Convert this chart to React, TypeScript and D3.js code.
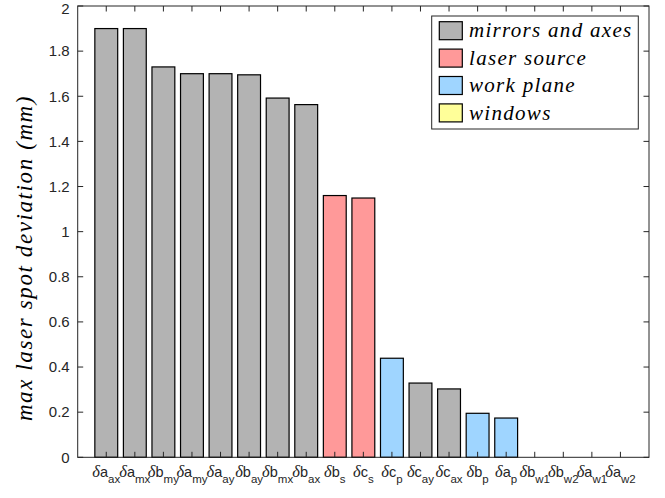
import React from "react";
import * as d3 from "d3";

const categories = [
  ["a", "ax"], ["a", "mx"], ["b", "my"], ["a", "my"], ["a", "ay"], ["b", "ay"], ["b", "mx"], ["b", "ax"],
  ["b", "s"], ["c", "s"], ["c", "p"], ["c", "ay"], ["c", "ax"], ["b", "p"], ["a", "p"],
  ["b", "w1"], ["b", "w2"], ["a", "w1"], ["a", "w2"],
];
const values = [1.9, 1.9, 1.73, 1.70, 1.70, 1.695, 1.592, 1.563, 1.16, 1.149, 0.439, 0.329, 0.303, 0.195, 0.174, 0, 0, 0, 0];
const groups = [0, 0, 0, 0, 0, 0, 0, 0, 1, 1, 2, 0, 0, 2, 2, 3, 3, 3, 3];
const groupNames = ["mirrors and axes", "laser source", "work plane", "windows"];
const groupColors = ["#b3b3b3", "#ff9999", "#9fd5ff", "#ffff99"];
const yTicks = [0, 0.2, 0.4, 0.6, 0.8, 1, 1.2, 1.4, 1.6, 1.8, 2];
const yLabel = "max laser spot deviation (mm)";

const W = 665, H = 498;
const L = 77.7, R = 649, T = 6, B = 457.3;

export default function App() {
  const x = d3.scaleLinear().domain([0, categories.length + 1]).range([L, R]);
  const y = d3.scaleLinear().domain([0, 2]).range([B, T]);
  const bw = (x(1) - x(0)) * 0.8;
  const tickLen = 5.5;
  const axisCol = "#262626";
  const serif = "'Liberation Serif', 'Times New Roman', serif";
  const sans = "'Liberation Sans', Arial, sans-serif";
  return (
    <svg width={W} height={H} style={{ position: "absolute", left: 0, top: 0, background: "#fff" }}>
      <rect x={0} y={0} width={W} height={H} fill="#fff" />
      {values.map((v, i) => (
        <rect key={i} x={x(i + 1) - bw / 2} y={y(v)} width={bw} height={y(0) - y(v)}
          fill={groupColors[groups[i]]} stroke="#000" strokeWidth={1.2} />
      ))}
      <rect x={L} y={T} width={R - L} height={B - T} fill="none" stroke={axisCol} strokeWidth={1} />
      {categories.map((c, i) => (
        <g key={"xt" + i}>
          <line x1={x(i + 1)} x2={x(i + 1)} y1={B} y2={B - tickLen} stroke={axisCol} />
          <line x1={x(i + 1)} x2={x(i + 1)} y1={T} y2={T + tickLen} stroke={axisCol} />
        </g>
      ))}
      {yTicks.map((t, i) => (
        <g key={"yt" + i}>
          <line x1={L} x2={L + tickLen} y1={y(t)} y2={y(t)} stroke={axisCol} />
          <line x1={R} x2={R - tickLen} y1={y(t)} y2={y(t)} stroke={axisCol} />
          <text x={L - 8} y={Math.max(y(t) + 5.3, 13.5)} textAnchor="end" fontFamily={sans} fontSize={15} fill={axisCol}>{String(t)}</text>
        </g>
      ))}
      {categories.map((c, i) => (
        <text key={"xl" + i} x={x(i + 1)} y={477} textAnchor="middle" fill={axisCol}>
          <tspan fontFamily={serif} fontStyle="italic" fontSize={16.5}>δ</tspan>
          <tspan fontFamily={sans} fontSize={14.5}>{c[0]}</tspan>
          <tspan fontFamily={sans} fontSize={11.5} dy={6}>{c[1]}</tspan>
        </text>
      ))}
      <text transform={`translate(32,258) rotate(-90)`} textAnchor="middle" fontFamily={serif}
        fontStyle="italic" fontSize={23} letterSpacing={1.6} fill="#000">{yLabel}</text>
      <rect x={431.7} y={16} width={206.6} height={113} fill="#fff" stroke={axisCol} strokeWidth={1} />
      {groupNames.map((g, i) => (
        <g key={"lg" + i}>
          <rect x={439.3} y={21.7 + i * 27.4} width={23} height={18} fill={groupColors[i]} stroke="#000" strokeWidth={1.2} />
          <text x={469} y={37.3 + i * 27.4} fontFamily={serif} fontStyle="italic" fontSize={21} letterSpacing={1.3} fill="#000">{g}</text>
        </g>
      ))}
    </svg>
  );
}
